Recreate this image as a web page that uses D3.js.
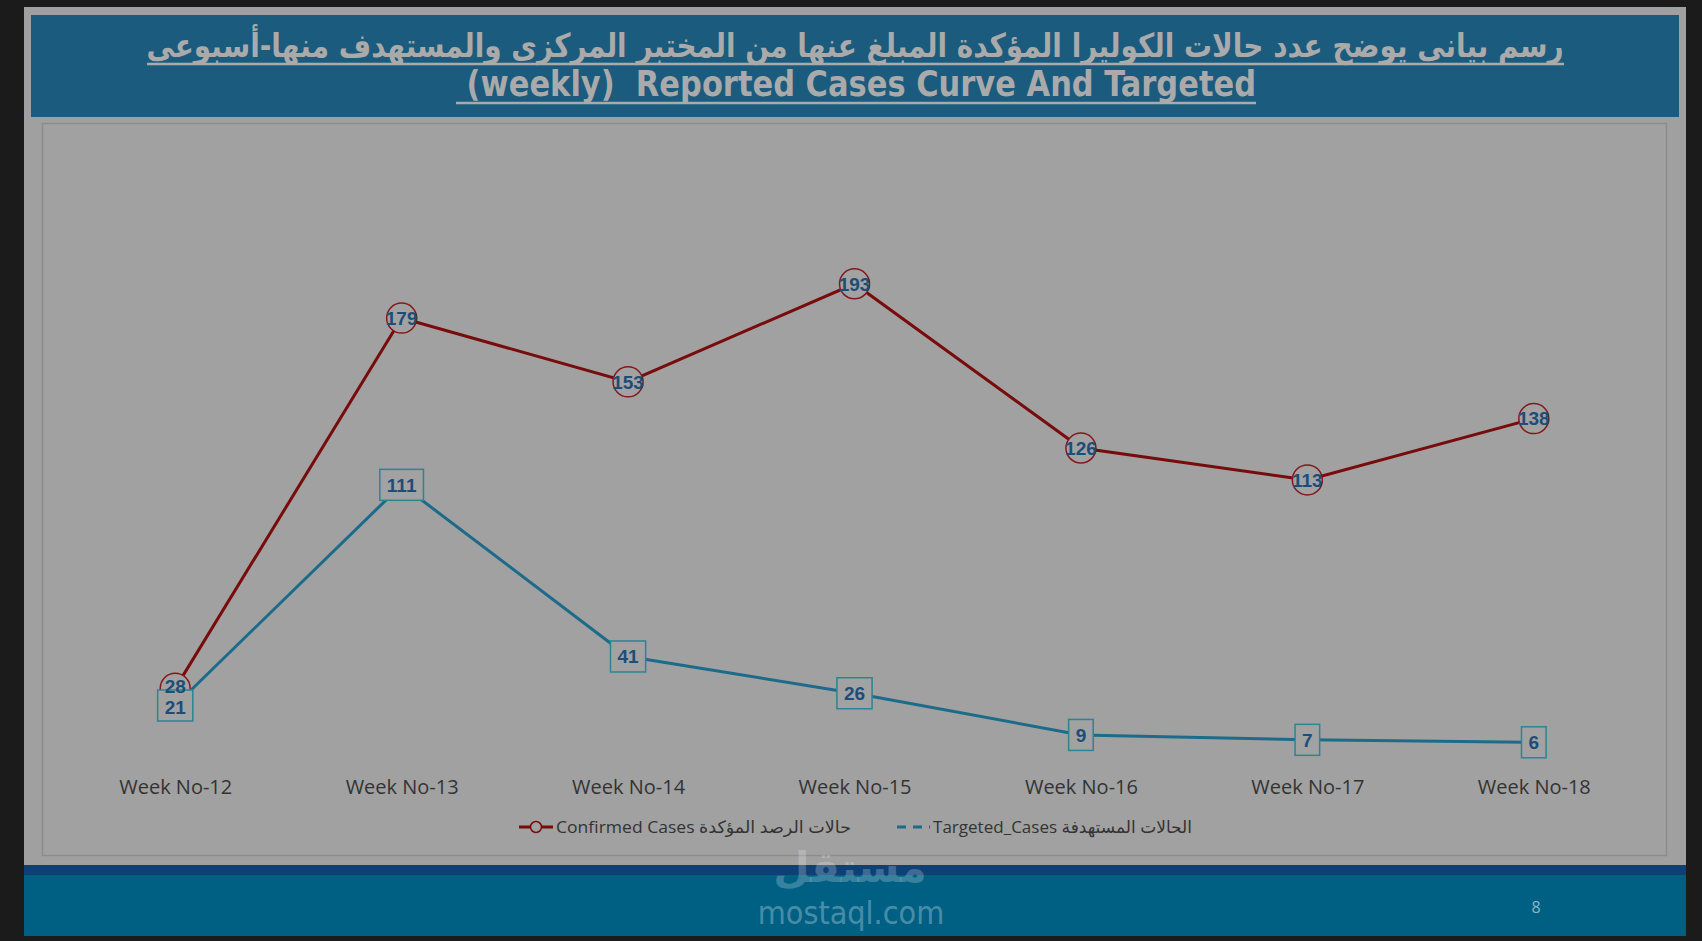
<!DOCTYPE html>
<html><head><meta charset="utf-8">
<script src="https://cdn.jsdelivr.net/npm/d3@7"></script>
<style>html,body{margin:0;padding:0;background:#1b1b1b;overflow:hidden}</style>
</head><body>
<svg id="c" width="1702" height="941"></svg>
<script>
const categories = ["Week No-12","Week No-13","Week No-14","Week No-15","Week No-16","Week No-17","Week No-18"];
const confirmedCases = [28,179,153,193,126,113,138];
const targetedCases = [21,111,41,26,9,7,6];
const titleArabic = "رسم بيانى يوضح عدد حالات الكوليرا المؤكدة المبلغ عنها من المختبر المركزى والمستهدف منها-أسبوعى";
const titleEnglish = " (weekly)  Reported Cases Curve And Targeted";
const legendLabels = ["Confirmed Cases  حالات الرصد المؤكدة", "Targeted_Cases الحالات المستهدفة"];

const svg = d3.select("#c");
// slide
svg.append("rect").attr("x",24).attr("y",7).attr("width",1662).attr("height",858).attr("fill","#a0a0a0");
svg.append("rect").attr("x",31).attr("y",15).attr("width",1648).attr("height",102).attr("fill","#1b5b7e");
svg.append("rect").attr("x",42.5).attr("y",123.5).attr("width",1624).attr("height",732).attr("fill","#a1a1a1").attr("stroke","#8c8c8c").attr("stroke-width",1.5);
svg.append("rect").attr("x",24).attr("y",865).attr("width",1662).attr("height",10).attr("fill","#0e4074");
svg.append("rect").attr("x",24).attr("y",875).attr("width",1662).attr("height",61).attr("fill","#006084");

// title
const tcol = "#aaaaaa";
svg.append("text").attr("x",855).attr("y",57).attr("text-anchor","middle")
  .attr("font-family","DejaVu Sans Condensed, DejaVu Sans").attr("font-weight","bold").attr("font-size",33)
  .attr("fill",tcol).attr("textLength",1417).attr("lengthAdjust","spacingAndGlyphs").text(titleArabic);
svg.append("line").attr("x1",147).attr("x2",1564).attr("y1",64).attr("y2",64).attr("stroke",tcol).attr("stroke-width",2.5);
svg.append("text").attr("x",856).attr("y",96).attr("text-anchor","middle")
  .attr("font-family","Liberation Sans Narrow, DejaVu Sans Condensed, sans-serif").attr("font-weight","bold").attr("font-size",36)
  .attr("fill",tcol).attr("textLength",800).attr("lengthAdjust","spacingAndGlyphs").attr("xml:space","preserve")
  .style("white-space","pre").text(titleEnglish);
svg.append("line").attr("x1",456).attr("x2",1256).attr("y1",103).attr("y2",103).attr("stroke",tcol).attr("stroke-width",2.5);

// scales
const x = d3.scalePoint().domain(categories).range([62,1647]).padding(0.5);
const y = d3.scaleLinear().domain([0,250]).range([757,144]);

// x axis labels
const xAxis = d3.axisBottom(x).tickSize(0).tickPadding(0);
const gx = svg.append("g").attr("transform","translate(0,776)").call(xAxis);
gx.select(".domain").remove();
gx.selectAll("text").attr("font-family","Open Sans, sans-serif").attr("font-size",20).attr("fill","#333333").attr("dy","0.9em");

const red = "#780b0b", teal = "#1d6b8a", lbl = "#1d4d78";
const line = d3.line().x((d,i)=>x(categories[i])).y(d=>y(d));

// label collision offsets (push apart labels of the same week that are too close)
const minGap = 21;
const offsets = confirmedCases.map((c,i)=>{
  const gap = Math.abs(y(c) - y(targetedCases[i]));
  return gap < minGap ? (minGap - gap)/2 : 0;
});

// confirmed
svg.append("path").datum(confirmedCases).attr("d",line).attr("fill","none").attr("stroke",red).attr("stroke-width",3);
svg.selectAll(".cm").data(confirmedCases).enter().append("circle")
  .attr("cx",(d,i)=>x(categories[i])).attr("cy",d=>y(d)).attr("r",15)
  .attr("fill","#a2a2a2").attr("stroke","#84181a").attr("stroke-width",1.5);

// targeted
svg.append("path").datum(targetedCases).attr("d",line).attr("fill","none").attr("stroke",teal).attr("stroke-width",3);

const fontL = "Liberation Sans, Arial, sans-serif";
const tg = svg.selectAll(".tl").data(targetedCases).enter().append("g")
  .attr("transform",(d,i)=>`translate(${x(categories[i])},${y(d)})`);
tg.append("text").attr("class","tt").attr("text-anchor","middle").attr("dy","0.36em")
  .attr("y",(d,i)=>offsets[i])
  .attr("font-family",fontL).attr("font-weight","bold").attr("font-size",19).attr("fill",lbl).text(d=>d);
tg.each(function(){
  const g = d3.select(this);
  const w = g.select("text").node().getComputedTextLength();
  g.insert("rect","text").attr("x",-w/2-7).attr("y",-15.5).attr("width",w+14).attr("height",31)
    .attr("fill","#a2a2a2").attr("stroke","#2b8593").attr("stroke-width",1.5);
});

svg.selectAll(".cl").data(confirmedCases).enter().append("text")
  .attr("x",(d,i)=>x(categories[i])).attr("y",(d,i)=>y(d)-offsets[i]).attr("dy","0.36em").attr("text-anchor","middle")
  .attr("font-family",fontL).attr("font-weight","bold").attr("font-size",19).attr("fill",lbl).text(d=>d);

// legend
const ly = 827;
svg.append("line").attr("x1",519).attr("x2",553).attr("y1",ly).attr("y2",ly).attr("stroke",red).attr("stroke-width",3);
svg.append("circle").attr("cx",536).attr("cy",ly).attr("r",5.5).attr("fill","#a2a2a2").attr("stroke",red).attr("stroke-width",1.5);
svg.append("text").attr("x",556).attr("y",ly).attr("dy","0.35em").attr("font-family","Open Sans, DejaVu Sans, sans-serif")
  .attr("font-size",17).attr("fill","#333333").attr("textLength",295).attr("lengthAdjust","spacingAndGlyphs").text(legendLabels[0]);
svg.append("line").attr("x1",897).attr("x2",930).attr("y1",ly).attr("y2",ly).attr("stroke",teal).attr("stroke-width",3).attr("stroke-dasharray","9,7");
svg.append("text").attr("x",933).attr("y",ly).attr("dy","0.35em").attr("font-family","Open Sans, DejaVu Sans, sans-serif")
  .attr("font-size",17).attr("fill","#333333").attr("textLength",259).attr("lengthAdjust","spacingAndGlyphs").text(legendLabels[1]);

// watermark + page number
svg.append("text").attr("x",850).attr("y",882).attr("text-anchor","middle").attr("font-family","DejaVu Sans").attr("font-weight","bold")
  .attr("font-size",42).attr("fill","#ffffff").attr("fill-opacity",0.22).text("مستقل");
svg.append("text").attr("x",851).attr("y",924).attr("text-anchor","middle").attr("font-family","Liberation Sans Narrow, DejaVu Sans Condensed, sans-serif")
  .attr("font-size",32).attr("fill","#ffffff").attr("fill-opacity",0.3).text("mostaql.com");
svg.append("text").attr("x",1536).attr("y",913).attr("text-anchor","middle").attr("font-family","Open Sans, sans-serif")
  .attr("font-size",16).attr("fill","#8fb5c9").text("8");
</script>
</body></html>
